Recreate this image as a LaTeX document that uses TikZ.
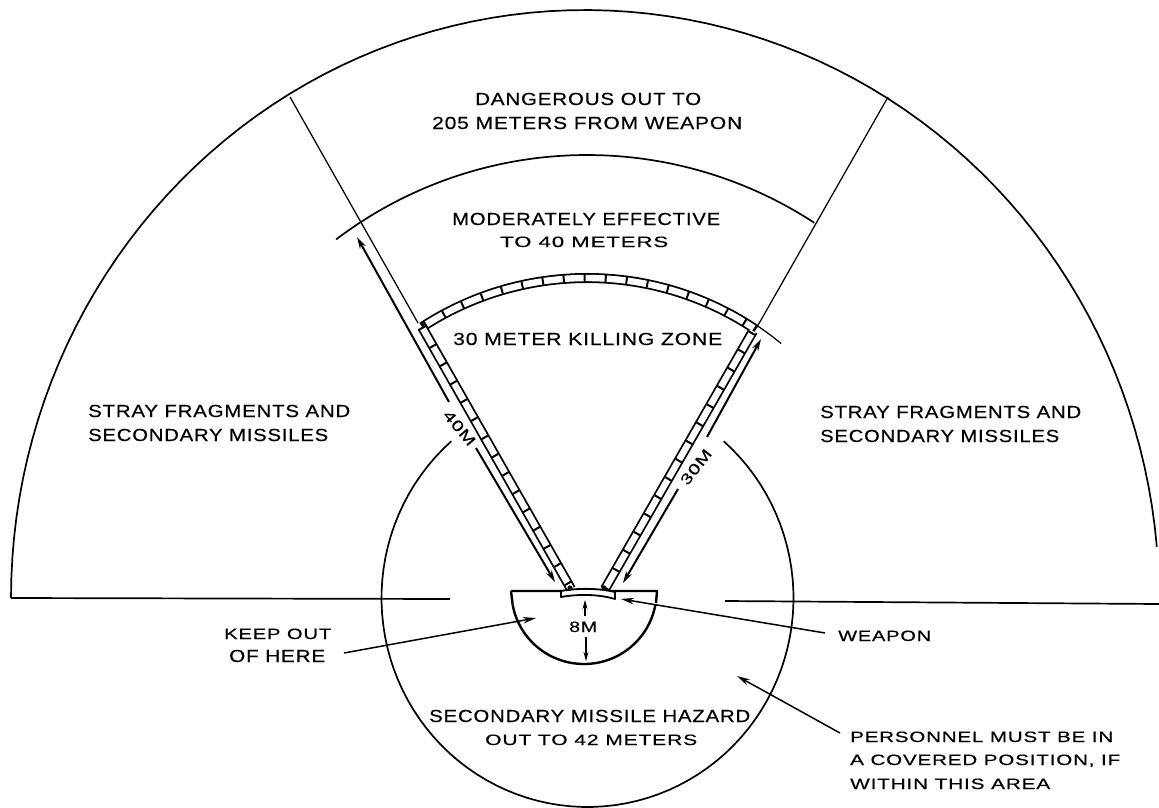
\documentclass[tikz,border=0pt]{standalone}
\usepackage{fontspec}
\usepackage{graphicx}
\setmainfont[LetterSpace=4,FakeBold=0.35]{Liberation Sans}
\usetikzlibrary{arrows.meta}
\newcommand\fitw[2]{\resizebox{#1pt}{\height}{\fontsize{17.5}{19}\selectfont #2}}
\newcommand\fits[2]{\resizebox{#1pt}{\height}{\fontsize{15}{17}\selectfont #2}}
\newcommand\arcat[6]{plot[domain=#5:#6,samples=90] ({#1+#3*cos(\x)},{#2+#4*sin(\x)})}
\tikzset{
  lab/.style={anchor=base west,inner sep=0pt,text=black},
  outline/.style={line width=1.7pt,line join=round,black},
  thinline/.style={line width=1.25pt,black},
  arrowline/.style={line width=2pt,black,-{Stealth[length=12pt,width=6.5pt]}},
  leader/.style={line width=1.5pt,black,-{Stealth[length=13pt,width=6.5pt]}},
  tiny arrow/.style={line width=1.1pt,black,-{Stealth[length=9pt,width=5pt]}},
  bandA/.style={line width=10pt,black},
  bandB/.style={line width=6.4pt,white},
  bandC/.style={line width=7pt,black,dash pattern=on 2pt off 19pt}
}
\begin{document}
\begin{tikzpicture}[x=1pt,y=-1pt]
\useasboundingbox[fill=white] (0,0) rectangle (1159,808);
% named points
\coordinate (lj) at (290,97);
\coordinate (rj) at (888,97);
\coordinate (lmid) at (418,323);
\coordinate (rmid) at (757,327);
\coordinate (lbt) at (571,589);
\coordinate (lbb) at (422,327);
\coordinate (rbt) at (753,331);
\coordinate (rbb) at (605,589);
\coordinate (hl1) at (11,598);
\coordinate (hl2) at (450,599);
\coordinate (hr1) at (725,601);
\coordinate (hr2) at (1159,604);
% outer arc
\draw[outline] \arcat{585}{598}{574}{588}{180}{355};
% horizontal lines
\draw[outline] (hl1) -- (hl2);
\draw[outline] (hr1) -- (hr2);
% moderate arc
\draw[outline] \arcat{587}{570}{415}{415}{232.8}{303.2};
% thin radials
\draw[thinline] (lj) -- (lmid);
\draw[thinline] (rj) -- (rmid);
% killing zone band
\draw[bandA] (lbb) -- (lbt);
\draw[bandA] (rbb) -- (rbt);
\draw[bandA] \arcat{587}{580}{302}{302}{236.9}{304};
\draw[bandB] (lbb) -- (lbt);
\draw[bandB] (rbb) -- (rbt);
\draw[bandB] \arcat{587}{580}{302}{302}{237.5}{303.5};
\draw[bandC] (lbb) -- (lbt);
\draw[bandC] (rbb) -- (rbt);
\draw[bandC] \arcat{587}{580}{302}{302}{237.5}{303.5};
\draw[thinline] \arcat{587}{580}{306}{306}{304}{309.4};
% range arrows
\coordinate (a1t) at (449,402); \coordinate (a1h) at (357,237);
\coordinate (a2t) at (476,448); \coordinate (a2h) at (555,582);
\coordinate (a3t) at (707,437); \coordinate (a3h) at (761,339);
\coordinate (a4t) at (678,489); \coordinate (a4h) at (623,583);
\draw[arrowline] (a1t) -- (a1h);
\draw[arrowline] (a2t) -- (a2h);
\draw[arrowline] (a3t) -- (a3h);
\draw[arrowline] (a4t) -- (a4h);
% hazard circle
\draw[outline] \arcat{587.5}{598}{206}{209}{-48.6}{228.6};
% keep-out half circle
\draw[line width=2.4pt,black,line join=round] (511,591) -- (657,591) -- (656,603);
\draw[line width=2.4pt,black,line join=round] \arcat{584}{592}{72.5}{72}{10}{170};
\draw[line width=2.4pt,black] (511,591) -- (512.6,604.5);
% weapon
\draw[line width=1.8pt,black,fill=white,line join=round] (561,591) -- (561,597) .. controls (578,594) and (598,594) .. (615,599) -- (615,592) .. controls (598,588) and (578,588) .. (561,591) -- cycle;
\fill[black] (570,588) circle (2.6pt) (604,588) circle (2.6pt);
% 8M arrows
\coordinate (m1t) at (585,616); \coordinate (m1h) at (585,600);
\coordinate (m2t) at (586,637); \coordinate (m2h) at (586,661);
\draw[tiny arrow] (m1t) -- (m1h);
\draw[tiny arrow] (m2t) -- (m2h);
% leaders
\coordinate (k1) at (344,653); \coordinate (k2) at (536,618);
\coordinate (w1) at (825,633); \coordinate (w2) at (621,599);
\coordinate (p1) at (840,733); \coordinate (p2) at (737,676);
\draw[leader] (k1) -- (k2);
\draw[leader] (w1) -- (w2);
\draw[leader] (p1) -- (p2);
% labels
\node[lab] (t1) at (475,105) {\fitw{226}{DANGEROUS OUT TO}};
\node[lab] (t2) at (432,129) {\fitw{310}{205 METERS FROM WEAPON}};
\node[lab] (t3) at (452,225) {\fitw{268}{MODERATELY EFFECTIVE}};
\node[lab] (t4) at (500,247) {\fits{168}{TO 40 METERS}};
\node[lab] (t5) at (453,345) {\fitw{269}{30 METER KILLING ZONE}};
\node[lab] (t6) at (88,417) {\fitw{262}{STRAY FRAGMENTS AND}};
\node[lab] (t7) at (88,441) {\fitw{240}{SECONDARY MISSILES}};
\node[lab] (t8) at (820,418) {\fitw{261}{STRAY FRAGMENTS AND}};
\node[lab] (t9) at (820,442) {\fitw{239}{SECONDARY MISSILES}};
\node[lab] (t10) at (429,722) {\fitw{321}{SECONDARY MISSILE HAZARD}};
\node[lab] (t11) at (485,745) {\fits{212}{OUT TO 42 METERS}};
\node[lab] (t12) at (224,639) {\fits{107}{KEEP OUT}};
\node[lab] (t13) at (229,662) {\fitw{96}{OF HERE}};
\node[lab] (t14) at (838,641) {\fits{93}{WEAPON}};
\node[lab] (t15) at (850,742) {\fits{263}{PERSONNEL MUST BE IN}};
\node[lab] (t16) at (850,765) {\fits{270}{A COVERED POSITION, IF}};
\node[lab] (t17) at (850,789) {\fits{200}{WITHIN THIS AREA}};
\node[lab] (t18) at (569,632) {\fits{28}{8M}};
\node[inner sep=0pt,rotate=-50] (t19) at (459.5,428) {\fits{41}{40M}};
\node[inner sep=0pt,rotate=52] (t20) at (696,467) {\fits{41}{30M}};
\end{tikzpicture}
\end{document}
